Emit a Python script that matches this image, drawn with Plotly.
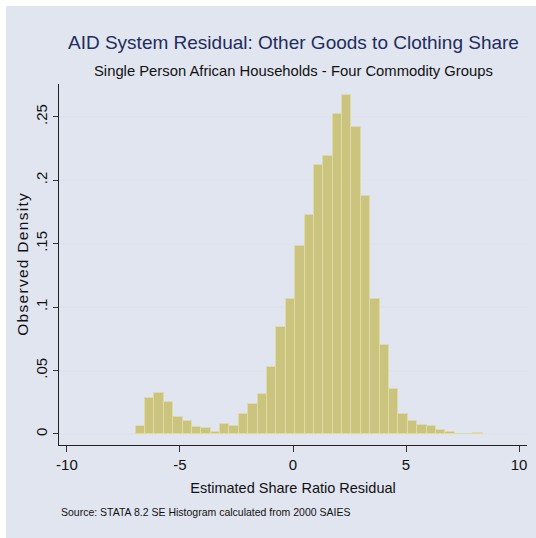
import plotly.graph_objects as go

# Histogram of residuals: 37 equal-width bins
bin_start = -6.96
bin_width = 0.415
density = [
    0.0063, 0.0283, 0.0323, 0.0252, 0.0131, 0.0102, 0.0052, 0.0050, 0.0013,
    0.0076, 0.0063, 0.0157, 0.0236, 0.0318, 0.0525, 0.0840, 0.1060, 0.1480,
    0.1724, 0.2123, 0.2192, 0.2520, 0.2669, 0.2423, 0.1874, 0.1066, 0.0698,
    0.0354, 0.0155, 0.0105, 0.0073, 0.0063, 0.0034, 0.0018, 0.0, 0.0, 0.0010,
]
centers = [bin_start + (i + 0.5) * bin_width for i in range(len(density))]

x_ticks = [-10, -5, 0, 5, 10]
x_tick_labels = ["-10", "-5", "0", "5", "10"]
y_ticks = [0, 0.05, 0.10, 0.15, 0.20, 0.25]
y_tick_labels = ["0", ".05", ".1", ".15", ".2", ".25"]

title = "AID System Residual: Other Goods to Clothing Share"
subtitle = "Single Person African Households - Four Commodity Groups"
x_title = "Estimated Share Ratio Residual"
y_title = "Observed Density"
note = "Source: STATA 8.2 SE Histogram calculated from 2000 SAIES"

FONT = "Liberation Sans, Arial, sans-serif"
BG = "#e1e5f0"
GRID = "#dfe3ee"

PW, PH = 468, 361  # plot-area size in pixels

fig = go.Figure()
fig.add_trace(go.Bar(
    x=centers,
    y=density,
    width=bin_width,
    marker=dict(color="rgb(202,196,126)",
                line=dict(color="rgb(224,219,165)", width=1)),
    hoverinfo="x+y",
))

# Outer tinted panel
fig.add_shape(type="rect", xref="paper", yref="paper",
              x0=-53 / PW, x1=1 + 30 / PW, y0=-120 / PH, y1=1 + 78 / PH,
              fillcolor=BG, line=dict(width=0), layer="below")

fig.update_layout(
    width=536, height=538,
    margin=dict(l=59, r=9, t=84, b=93),
    paper_bgcolor="white",
    plot_bgcolor="white",
    showlegend=False,
    bargap=0,
    font=dict(family=FONT, color="#111111"),
    xaxis=dict(
        range=[-10.35, 10.35],
        tickvals=x_ticks, ticktext=x_tick_labels,
        ticks="outside", ticklen=6, tickwidth=1, tickcolor="#333333",
        tickfont=dict(size=15, family=FONT, color="#111111"),
        showgrid=False, zeroline=False,
        showline=True, linecolor="#222222", linewidth=1,
        title=dict(text=x_title, font=dict(size=14.5, family=FONT, color="#111111"),
                   standoff=10),
    ),
    yaxis=dict(
        range=[-0.0087, 0.2758],
        tickvals=y_ticks, ticktext=y_tick_labels,
        tickangle=-90,
        ticks="outside", ticklen=5, tickwidth=1, tickcolor="#333333",
        tickfont=dict(size=15, family=FONT, color="#111111"),
        showgrid=True, gridcolor=GRID, gridwidth=1.5,
        zeroline=False,
        showline=True, linecolor="#222222", linewidth=1,
        title=dict(text="\u200a".join(y_title),
                   font=dict(size=15.5, family=FONT, color="#111111"),
                   standoff=0),
    ),
    annotations=[
        dict(text=title, xref="paper", yref="paper", x=0.5, y=1 + 42 / PH,
             xanchor="center", yanchor="middle", showarrow=False,
             font=dict(size=19, family=FONT, color="#1f2d5c")),
        dict(text=subtitle, xref="paper", yref="paper", x=0.5, y=1 + 13 / PH,
             xanchor="center", yanchor="middle", showarrow=False,
             font=dict(size=14.8, family=FONT, color="#111111")),
        dict(text=note, xref="paper", yref="paper", x=0.0, y=-67 / PH,
             xanchor="left", yanchor="middle", showarrow=False,
             font=dict(size=10.5, family=FONT, color="#111111")),
    ],
)

fig.write_html("out.html")
